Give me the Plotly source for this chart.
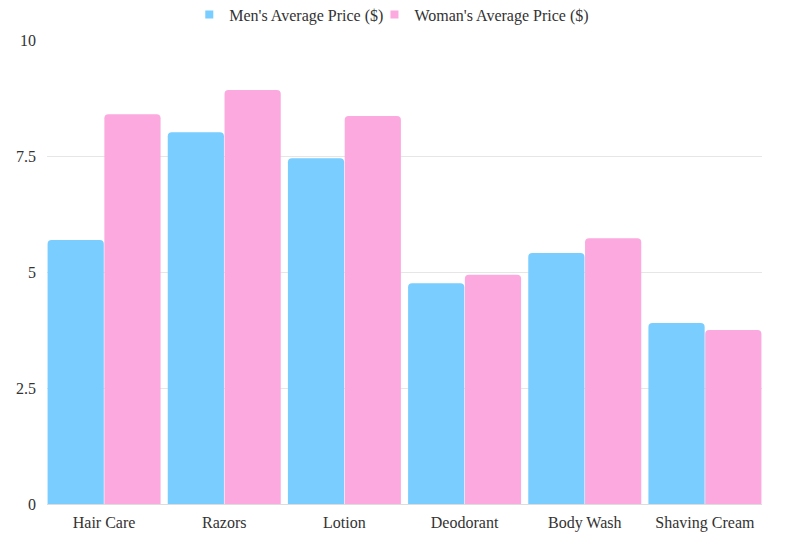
import plotly.graph_objects as go

categories = ["Hair Care", "Razors", "Lotion", "Deodorant", "Body Wash", "Shaving Cream"]
mens_price = [5.69, 8.01, 7.45, 4.76, 5.41, 3.90]
womens_price = [8.40, 8.92, 8.36, 4.94, 5.73, 3.75]
y_ticks = [0, 2.5, 5, 7.5, 10]

BLUE = "#7ACDFF"
PINK = "#FCA9DF"
TEXT = "#333333"
SERIF = "Liberation Serif"

series = [
    ("Men's Average Price ($)", mens_price, BLUE, "legend"),
    ("Woman's Average Price ($)", womens_price, PINK, "legend2"),
]

fig = go.Figure()
for name, vals, col, lg in series:
    fig.add_trace(go.Bar(
        x=categories, y=vals, name=name, showlegend=False,
        marker=dict(color=col, cornerradius=4, line=dict(width=0)),
    ))
# small square legend keys, like the original (one legend each so spacing can be set)
for name, vals, col, lg in series:
    fig.add_trace(go.Scatter(
        x=[None], y=[None], mode="markers", name=name, legend=lg,
        marker=dict(symbol="square", size=8, color=col),
    ))

legend_style = dict(orientation="h", xanchor="left", y=1.055, yanchor="middle",
                    font=dict(family=SERIF, size=16, color=TEXT), itemwidth=30,
                    bgcolor="rgba(0,0,0,0)")

# page body has an 8px margin, so the figure is shrunk to fit the window
fig.update_layout(
    width=791, height=540,
    paper_bgcolor="white", plot_bgcolor="white",
    font=dict(family=SERIF, size=16, color=TEXT),
    margin=dict(l=39, r=37, t=32, b=44, autoexpand=False),
    barmode="group", bargap=0.055, bargroupgap=0.01,
    legend=dict(x=0.199, **legend_style),
    legend2=dict(x=0.458, **legend_style),
)
fig.update_xaxes(range=[-0.475, 5.475], showgrid=False, showline=True,
                 linecolor="#dddddd", linewidth=1, ticks="", ticklabelstandoff=4,
                 tickfont=dict(family=SERIF, size=16))
fig.update_yaxes(range=[0, 10], tickvals=y_ticks, ticktext=["0", "2.5", "5", "7.5", "10"],
                 gridcolor="#e6e6e6", zeroline=False, showline=False, ticks="",
                 ticklabelstandoff=10, tickfont=dict(family=SERIF, size=16))

fig.write_html("out.html")
